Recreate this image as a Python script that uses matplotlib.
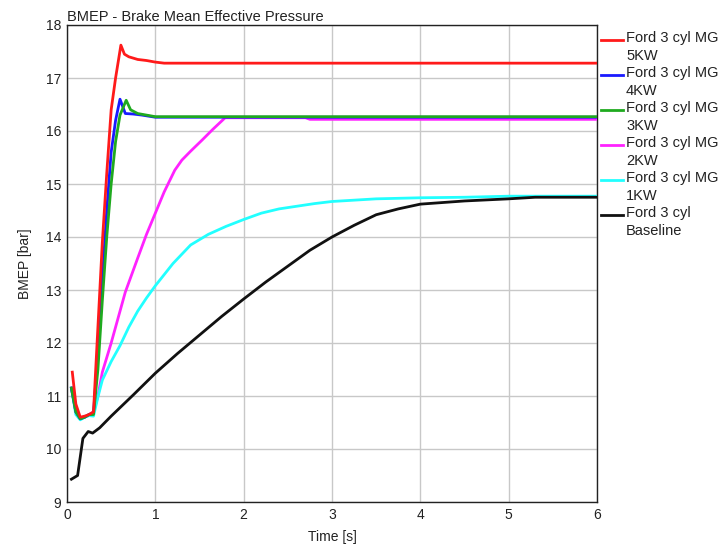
import matplotlib.pyplot as plt
from matplotlib.lines import Line2D

plt.rcParams['font.family'] = ['Liberation Sans', 'DejaVu Sans']

# engine runs: time [s] and BMEP [bar]
t_5kw = [0.06, 0.1, 0.15, 0.2, 0.25, 0.3, 0.35, 0.4, 0.45, 0.5, 0.55, 0.61, 0.65, 0.7, 0.8, 0.9, 1.0, 1.1, 6.0]
bmep_5kw = [11.45, 10.85, 10.6, 10.62, 10.65, 10.7, 12.3, 13.9, 15.2, 16.4, 17.0, 17.62, 17.45, 17.4, 17.35, 17.33, 17.3, 17.28, 17.28]

t_4kw = [0.05, 0.1, 0.15, 0.2, 0.25, 0.3, 0.35, 0.4, 0.45, 0.5, 0.55, 0.6, 0.66, 0.75, 0.85, 1.0, 6.0]
bmep_4kw = [11.15, 10.7, 10.57, 10.6, 10.65, 10.68, 11.8, 13.2, 14.5, 15.6, 16.2, 16.6, 16.33, 16.32, 16.3, 16.26, 16.26]

t_3kw = [0.05, 0.1, 0.15, 0.2, 0.25, 0.3, 0.35, 0.4, 0.45, 0.5, 0.55, 0.6, 0.67, 0.72, 0.8, 0.9, 1.0, 6.0]
bmep_3kw = [11.15, 10.7, 10.57, 10.6, 10.65, 10.65, 11.5, 12.8, 14.0, 15.0, 15.8, 16.3, 16.58, 16.4, 16.33, 16.3, 16.27, 16.27]

t_2kw = [0.05, 0.1, 0.15, 0.2, 0.25, 0.3, 0.35, 0.4, 0.5, 0.66, 0.8, 0.9, 1.0, 1.1, 1.22, 1.3, 1.4, 1.53, 1.65, 1.79, 2.7, 2.75, 6.0]
bmep_2kw = [11.15, 10.7, 10.57, 10.6, 10.65, 10.7, 11.0, 11.45, 12.0, 12.96, 13.6, 14.05, 14.45, 14.85, 15.26, 15.45, 15.62, 15.83, 16.03, 16.25, 16.25, 16.22, 16.22]

t_1kw = [0.05, 0.1, 0.15, 0.2, 0.25, 0.3, 0.35, 0.4, 0.5, 0.6, 0.7, 0.8, 0.9, 1.0, 1.2, 1.4, 1.6, 1.8, 2.0, 2.2, 2.4, 2.6, 2.8, 3.0, 3.5, 4.0, 4.5, 5.0, 6.0]
bmep_1kw = [11.15, 10.65, 10.55, 10.6, 10.63, 10.62, 10.98, 11.3, 11.65, 11.95, 12.3, 12.6, 12.85, 13.08, 13.5, 13.85, 14.05, 14.2, 14.33, 14.45, 14.53, 14.58, 14.63, 14.67, 14.72, 14.74, 14.75, 14.77, 14.77]

t_base = [0.05, 0.12, 0.18, 0.24, 0.29, 0.37, 0.5, 0.75, 1.0, 1.25, 1.5, 1.75, 2.0, 2.25, 2.5, 2.75, 3.0, 3.25, 3.5, 3.75, 4.0, 4.5, 5.0, 5.3, 6.0]
bmep_base = [9.43, 9.5, 10.2, 10.33, 10.3, 10.4, 10.62, 11.02, 11.43, 11.8, 12.15, 12.5, 12.83, 13.15, 13.45, 13.75, 14.0, 14.22, 14.42, 14.53, 14.62, 14.68, 14.72, 14.75, 14.75]

labels = ['Ford 3 cyl MG\n5KW', 'Ford 3 cyl MG\n4KW', 'Ford 3 cyl MG\n3KW',
          'Ford 3 cyl MG\n2KW', 'Ford 3 cyl MG\n1KW', 'Ford 3 cyl\nBaseline']
colors = ['#ff1a1a', '#1a1aff', '#1faa1f', '#ff22ff', '#22ffff', '#111111']
series = [(t_5kw, bmep_5kw), (t_4kw, bmep_4kw), (t_3kw, bmep_3kw),
          (t_2kw, bmep_2kw), (t_1kw, bmep_1kw), (t_base, bmep_base)]
draw_order = [3, 4, 1, 2, 0, 5]

fig = plt.figure(figsize=(7.27, 5.49), dpi=100)
ax = fig.add_axes([67 / 727, 1 - 502 / 549, 530 / 727, 477 / 549])

for i in draw_order:
    t, v = series[i]
    ax.plot(t, v, color=colors[i], lw=2.0, zorder=3 + draw_order.index(i))

ax.set_xlim(0, 6)
ax.set_ylim(9, 18)
ax.set_xticks(range(0, 7))
ax.set_yticks(range(9, 19))
ax.grid(True, color='#c8c8c8', lw=1.0)
ax.tick_params(labelsize=10, length=0, pad=4, labelcolor='#222222')
for s in ax.spines.values():
    s.set_color('#222222')
    s.set_linewidth(1.0)

ax.set_xlabel('Time [s]', fontsize=10, labelpad=6, color='#222222')
ax.set_ylabel('BMEP [bar]', fontsize=10, labelpad=10, color='#222222')
ax.set_title('BMEP - Brake Mean Effective Pressure', loc='left', fontsize=10.5, pad=3,
             color='#222222')

# legend to the right of the plot, handle level with the first text line
for k, (lab, col) in enumerate(zip(labels, colors)):
    yp = 1 - (40 + 35 * k) / 549
    fig.add_artist(Line2D([601 / 727, 623 / 727], [yp, yp], color=col, lw=2.0,
                          transform=fig.transFigure))
    fig.text(626 / 727, yp + 9 / 549, lab, fontsize=10.5, va='top', ha='left',
             color='#222222', linespacing=1.32)

fig.savefig('out.png', dpi=100)
